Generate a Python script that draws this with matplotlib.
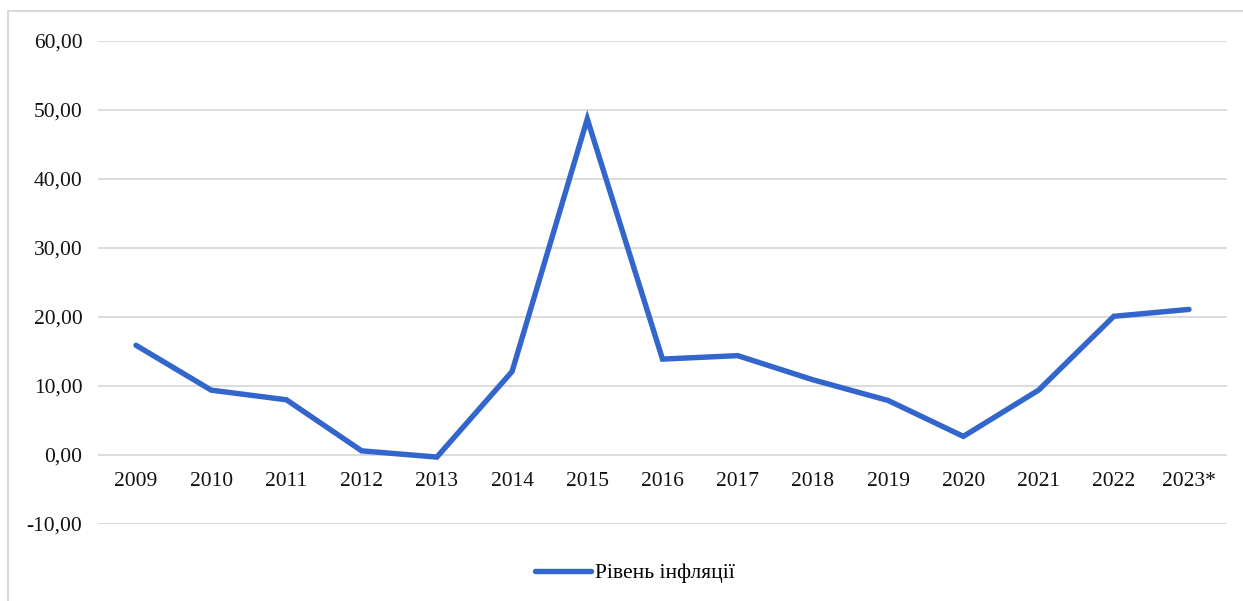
import matplotlib
matplotlib.use("Agg")
import matplotlib.pyplot as plt
from matplotlib.patches import Rectangle

years = ["2009", "2010", "2011", "2012", "2013", "2014", "2015", "2016",
         "2017", "2018", "2019", "2020", "2021", "2022", "2023*"]
inflation = [15.9, 9.4, 8.0, 0.6, -0.3, 12.1, 48.7, 13.9,
             14.4, 10.9, 7.9, 2.7, 9.4, 20.1, 21.1]
y_ticks = [-10, 0, 10, 20, 30, 40, 50, 60]
series_label = "Рівень інфляції"

plt.rcParams["font.family"] = ["Liberation Serif", "DejaVu Serif"]
FS = 15.5

W, H = 1243, 601
fig = plt.figure(figsize=(W / 100, H / 100), dpi=100)

# chart area frame (light grey)
fig.patches.append(Rectangle((8 / W, -0.2), 1.2, (H - 11) / H + 0.2,
                             transform=fig.transFigure, fill=False,
                             edgecolor="#d9d9d9", linewidth=1.5, zorder=0))

ax = fig.add_axes([98.4 / W, 1 - 524 / H, (1226.6 - 98.4) / W, (524 - 41) / H])
for s in ax.spines.values():
    s.set_visible(False)
ax.spines["bottom"].set_position(("data", 0))

x = list(range(len(years)))
line, = ax.plot(x, inflation, color="#3366CC", linewidth=3.9,
                solid_joinstyle="miter", solid_capstyle="round", zorder=3)

ax.set_xlim(-0.5, len(years) - 0.5)
ax.set_ylim(-10, 60)
ax.set_yticks(y_ticks)
ax.set_yticklabels([f"{v:.2f}".replace(".", ",") for v in y_ticks], fontsize=FS)
ax.set_xticks(x)
ax.set_xticklabels(years, fontsize=FS)

ax.grid(axis="y", color="#d9d9d9", linewidth=1.3)
ax.set_axisbelow(True)
ax.tick_params(axis="both", length=0, colors="#111111")
ax.tick_params(axis="y", pad=11.5)
ax.tick_params(axis="x", pad=12.5)

fig.legend([line], [series_label], loc="center",
           bbox_to_anchor=(635 / W, 1 - 573 / H), frameon=False,
           fontsize=FS, handlelength=2.6, handletextpad=0.2)

fig.savefig("out.png", dpi=100)
